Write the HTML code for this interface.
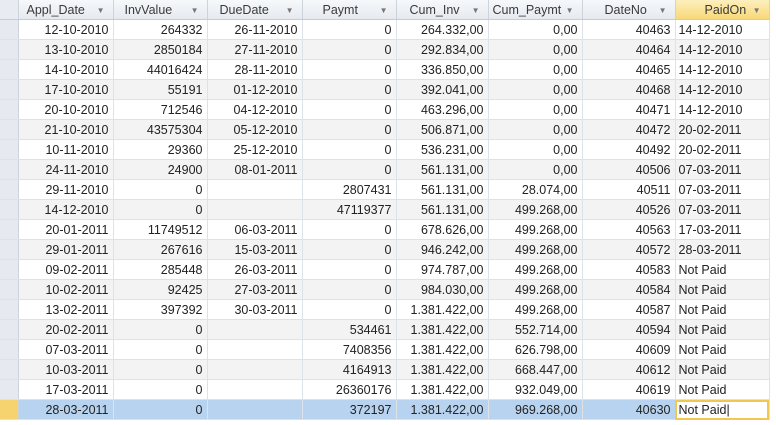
<!DOCTYPE html>
<html><head><meta charset="utf-8"><style>
body{margin:0;width:776px;height:425px;overflow:hidden;background:#fff;font-family:"Liberation Sans",sans-serif;font-size:12.5px;color:#222;}
table{border-collapse:collapse;table-layout:fixed;position:absolute;left:0;top:0;}
td,th{height:19px;padding:0 4px;border-right:1px solid #dde2e8;border-bottom:1px solid #dde2e8;white-space:nowrap;overflow:hidden;}
th{font-weight:normal;background:linear-gradient(#f6f8fa,#e6eaf0);color:#3a3a3a;text-align:left;border-right:1px solid #cdd3db;border-bottom:1px solid #c6ccd4;position:relative;}
th span{position:absolute;right:8px;top:6px;font-size:8px;color:#777;}
th.sel{background:linear-gradient(#fdf0bd,#f8d878);}
td{text-align:right;}
td.l{text-align:left;padding-left:3px;}
td.s{background:#e6eaf0;padding:0;border-right:1px solid #cdd3db;}
tbody tr:nth-child(even) td{background:#f3f3f3;}
tbody tr:nth-child(even) td.s{background:#e6eaf0;}
tr.cur td{background:#b8d3f0 !important;}
tr.cur td.s{background:#f6d36e !important;}
tr.cur td.ed{background:#fff !important;outline:2px solid #f0c850;outline-offset:-2px;}
</style></head><body>
<table>
<colgroup><col style="width:18px"><col style="width:95px"><col style="width:94px"><col style="width:95px"><col style="width:94px"><col style="width:92px"><col style="width:94px"><col style="width:93px"><col style="width:94px"></colgroup>
<thead><tr><th style="background:#e8ecf2"></th><th style="padding-left:8px">Appl_Date<span>▼</span></th><th style="padding-left:11px">InvValue<span>▼</span></th><th style="padding-left:12px">DueDate<span>▼</span></th><th style="padding-left:20px">Paymt<span>▼</span></th><th style="padding-left:13px">Cum_Inv<span>▼</span></th><th style="padding-left:4px">Cum_Paymt<span>▼</span></th><th style="padding-left:22px">DateNo<span>▼</span></th><th class="sel" style="padding-left:29px">PaidOn<span>▼</span></th></tr></thead>
<tbody>
<tr><td class="s"></td><td>12-10-2010</td><td>264332</td><td>26-11-2010</td><td>0</td><td>264.332,00</td><td>0,00</td><td>40463</td><td class="l">14-12-2010</td></tr>
<tr><td class="s"></td><td>13-10-2010</td><td>2850184</td><td>27-11-2010</td><td>0</td><td>292.834,00</td><td>0,00</td><td>40464</td><td class="l">14-12-2010</td></tr>
<tr><td class="s"></td><td>14-10-2010</td><td>44016424</td><td>28-11-2010</td><td>0</td><td>336.850,00</td><td>0,00</td><td>40465</td><td class="l">14-12-2010</td></tr>
<tr><td class="s"></td><td>17-10-2010</td><td>55191</td><td>01-12-2010</td><td>0</td><td>392.041,00</td><td>0,00</td><td>40468</td><td class="l">14-12-2010</td></tr>
<tr><td class="s"></td><td>20-10-2010</td><td>712546</td><td>04-12-2010</td><td>0</td><td>463.296,00</td><td>0,00</td><td>40471</td><td class="l">14-12-2010</td></tr>
<tr><td class="s"></td><td>21-10-2010</td><td>43575304</td><td>05-12-2010</td><td>0</td><td>506.871,00</td><td>0,00</td><td>40472</td><td class="l">20-02-2011</td></tr>
<tr><td class="s"></td><td>10-11-2010</td><td>29360</td><td>25-12-2010</td><td>0</td><td>536.231,00</td><td>0,00</td><td>40492</td><td class="l">20-02-2011</td></tr>
<tr><td class="s"></td><td>24-11-2010</td><td>24900</td><td>08-01-2011</td><td>0</td><td>561.131,00</td><td>0,00</td><td>40506</td><td class="l">07-03-2011</td></tr>
<tr><td class="s"></td><td>29-11-2010</td><td>0</td><td></td><td>2807431</td><td>561.131,00</td><td>28.074,00</td><td>40511</td><td class="l">07-03-2011</td></tr>
<tr><td class="s"></td><td>14-12-2010</td><td>0</td><td></td><td>47119377</td><td>561.131,00</td><td>499.268,00</td><td>40526</td><td class="l">07-03-2011</td></tr>
<tr><td class="s"></td><td>20-01-2011</td><td>11749512</td><td>06-03-2011</td><td>0</td><td>678.626,00</td><td>499.268,00</td><td>40563</td><td class="l">17-03-2011</td></tr>
<tr><td class="s"></td><td>29-01-2011</td><td>267616</td><td>15-03-2011</td><td>0</td><td>946.242,00</td><td>499.268,00</td><td>40572</td><td class="l">28-03-2011</td></tr>
<tr><td class="s"></td><td>09-02-2011</td><td>285448</td><td>26-03-2011</td><td>0</td><td>974.787,00</td><td>499.268,00</td><td>40583</td><td class="l">Not Paid</td></tr>
<tr><td class="s"></td><td>10-02-2011</td><td>92425</td><td>27-03-2011</td><td>0</td><td>984.030,00</td><td>499.268,00</td><td>40584</td><td class="l">Not Paid</td></tr>
<tr><td class="s"></td><td>13-02-2011</td><td>397392</td><td>30-03-2011</td><td>0</td><td>1.381.422,00</td><td>499.268,00</td><td>40587</td><td class="l">Not Paid</td></tr>
<tr><td class="s"></td><td>20-02-2011</td><td>0</td><td></td><td>534461</td><td>1.381.422,00</td><td>552.714,00</td><td>40594</td><td class="l">Not Paid</td></tr>
<tr><td class="s"></td><td>07-03-2011</td><td>0</td><td></td><td>7408356</td><td>1.381.422,00</td><td>626.798,00</td><td>40609</td><td class="l">Not Paid</td></tr>
<tr><td class="s"></td><td>10-03-2011</td><td>0</td><td></td><td>4164913</td><td>1.381.422,00</td><td>668.447,00</td><td>40612</td><td class="l">Not Paid</td></tr>
<tr><td class="s"></td><td>17-03-2011</td><td>0</td><td></td><td>26360176</td><td>1.381.422,00</td><td>932.049,00</td><td>40619</td><td class="l">Not Paid</td></tr>
<tr class="cur"><td class="s"></td><td>28-03-2011</td><td>0</td><td></td><td>372197</td><td>1.381.422,00</td><td>969.268,00</td><td>40630</td><td class="l ed">Not Paid|</td></tr>
</tbody></table>
</body></html>
